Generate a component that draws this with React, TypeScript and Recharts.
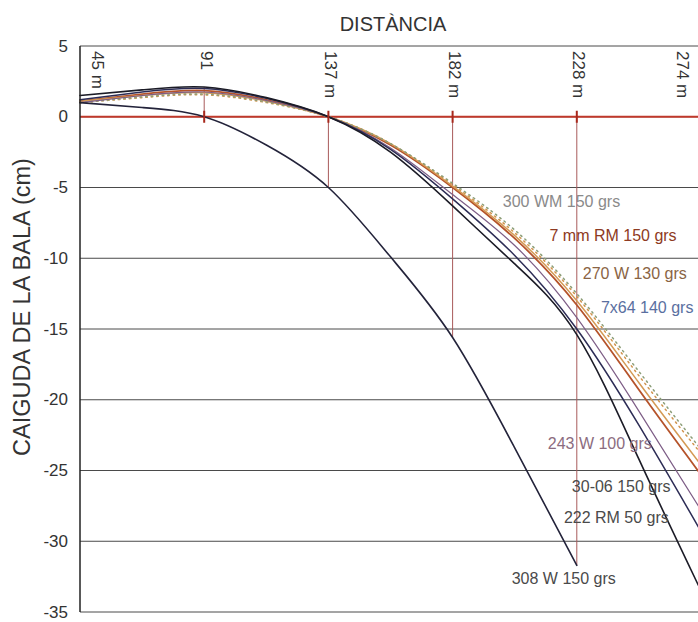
import React from 'react';
import { ComposedChart, Line, XAxis, YAxis, CartesianGrid, ReferenceLine, ReferenceDot } from 'recharts';

// Distance in yards (ticks are shown in metres)
const DIST = [50, 75, 100, 125, 150, 175, 200, 225, 250, 275, 300];
const TICK_DIST = [50, 100, 150, 200, 250, 300];
const TICK_LABELS = ['45 m', '91', '137 m', '182 m', '228 m', '274 m'];
const Y_TICKS = [5, 0, -5, -10, -15, -20, -25, -30, -35];

// Bullet drop (cm)
const S300WM = [1.0, 1.35, 1.55, 1.0, 0, -1.9, -4.8, -8.2, -12.7, -18.3, -23.8];
const S7MM = [1.1, 1.6, 1.85, 1.2, 0, -2.0, -5.0, -8.6, -13.3, -19.3, -25.3];
const S270 = [1.1, 1.5, 1.7, 1.1, 0, -1.9, -4.9, -8.4, -13.0, -18.8, -24.6];
const S7X64 = [1.0, 1.4, 1.6, 1.05, 0, -1.9, -4.7, -8.0, -12.5, -18.0, -23.5];
const S243 = [1.0, 1.5, 1.75, 1.15, 0, -2.2, -5.5, -9.1, -14.2, -20.8, -27.8];
const S3006 = [1.2, 1.75, 2.0, 1.3, 0, -2.3, -5.8, -9.8, -15.0, -21.8, -29.3];
const S222 = [1.5, 1.9, 2.1, 1.35, 0, -2.5, -6.3, -10.4, -15.4, -24.2, -33.5];
const S308 = [1.0, 0.65, 0, -2.0, -5.0, -9.9, -15.6, -23.4, -31.7, null, null];

// Series annotations (text, anchor distance in yards, anchor drop in cm)
const LABEL_TEXT = ['300 WM 150 grs', '7 mm RM 150 grs', '270 W 130 grs', '7x64 140 grs', '243 W 100 grs', '30-06 150 grs', '222 RM 50 grs', '308 W 150 grs'];
const LABEL_DIST = [220.2, 239, 252.4, 259.7, 238.3, 248, 244.8, 223.8];
const LABEL_DROP = [-6.0, -8.4, -11.1, -13.5, -23.1, -26.1, -28.3, -32.6];

const SERIES_ARRAYS = [S300WM, S7MM, S270, S7X64, S243, S3006, S222, S308];
const SERIES_KEYS = ['wm300', 'mm7', 'w270', 'x64', 'w243', 's3006', 'rm222', 'w308'];
const SERIES_STYLE = [
  { stroke: '#d0944e', width: 1.5, dash: '1.5 4' },
  { stroke: '#b5532a', width: 1.8, dash: undefined },
  { stroke: '#d49a55', width: 1.5, dash: undefined },
  { stroke: '#8c9e78', width: 1.5, dash: '1.5 4' },
  { stroke: '#7d5d86', width: 1.2, dash: undefined },
  { stroke: '#2c2c55', width: 1.5, dash: undefined },
  { stroke: '#1b1b26', width: 1.6, dash: undefined },
  { stroke: '#23233a', width: 1.6, dash: undefined },
];
const LABEL_COLORS = ['#8a8a8a', '#8e3a22', '#8a6444', '#5a6fa0', '#8c6c80', '#4a4a4a', '#4a4a4a', '#4a4a4a'];

const FONT = '"Liberation Sans", Arial, sans-serif';

const data = DIST.map((x, i) => {
  const row: Record<string, number | null> = { x };
  SERIES_KEYS.forEach((k, j) => {
    row[k] = SERIES_ARRAYS[j][i];
  });
  return row;
});

const DROP_DIST = TICK_DIST.filter((d) => d > DIST[0] && d < DIST[DIST.length - 1]);
const dropLines = DROP_DIST.map((d) => {
  const i = DIST.indexOf(d);
  const vals = SERIES_ARRAYS.map((s) => s[i]).filter((v): v is number => v !== null && v !== undefined);
  return { x: d, top: Math.max(0, ...vals), bottom: Math.min(0, ...vals) };
});

const YTick = (props: any) => {
  const { y, payload } = props;
  return (
    <text x={68} y={y} textAnchor="end" dominantBaseline="central" fontSize={17} fill="#333" fontFamily={FONT}>
      {payload.value}
    </text>
  );
};

export default function App() {
  return (
    <div style={{ position: 'absolute', left: 0, top: 0, width: 698, height: 622, overflow: 'hidden', background: '#fff' }}>
      <div
        style={{
          position: 'absolute',
          left: 293,
          top: 12,
          width: 200,
          textAlign: 'center',
          fontSize: 20,
          fontFamily: FONT,
          color: '#333',
          lineHeight: '24px',
        }}
      >
        DISTÀNCIA
      </div>
      <div
        style={{
          position: 'absolute',
          left: 22 - 200,
          top: 307 - 13,
          width: 400,
          height: 26,
          lineHeight: '26px',
          textAlign: 'center',
          transform: 'rotate(-90deg)',
          fontSize: 23.5,
          fontFamily: FONT,
          color: '#333',
        }}
      >
        CAIGUDA DE LA BALA (cm)
      </div>
      <div style={{ position: 'absolute', left: 0, top: 0 }}>
        <ComposedChart width={702} height={622} data={data} margin={{ top: 46, right: 1, bottom: 10, left: 0 }}>
          <CartesianGrid vertical={false} stroke="#4a4a4a" strokeWidth={1} />
          <XAxis
            dataKey="x"
            type="number"
            orientation="top"
            domain={[50, 300]}
            ticks={TICK_DIST}
            height={0}
            axisLine={{ stroke: '#222', strokeWidth: 1.5 }}
            tickLine={false}
            tick={false}
          />
          <YAxis
            type="number"
            domain={[-35, 5]}
            ticks={Y_TICKS}
            width={80}
            axisLine={{ stroke: '#222', strokeWidth: 1.5 }}
            tickLine={false}
            tick={<YTick />}
            interval={0}
          />
          {dropLines.map((d) => (
            <ReferenceLine
              key={`drop-${d.x}`}
              segment={[
                { x: d.x, y: d.top },
                { x: d.x, y: d.bottom },
              ]}
              stroke="#a85a5a"
              strokeWidth={1}
              ifOverflow="visible"
            />
          ))}
          <ReferenceLine y={0} stroke="#c0392b" strokeWidth={2} />
          {dropLines.map((d) => (
            <ReferenceDot
              key={`tick-${d.x}`}
              x={d.x}
              y={0}
              r={0}
              ifOverflow="visible"
              shape={(p: any) => (
                <line x1={p.cx} x2={p.cx} y1={p.cy - 6} y2={p.cy + 6} stroke="#a8281c" strokeWidth={2} />
              )}
            />
          ))}
          {TICK_DIST.map((d, j) => (
            <ReferenceDot
              key={`xt-${d}`}
              x={d}
              y={5}
              r={0}
              ifOverflow="visible"
              shape={(p: any) => {
                const cx = Math.min(Math.max(p.cx + 2, 97), 682);
                return (
                  <text
                    x={0}
                    y={0}
                    transform={`translate(${cx},${p.cy + 5}) rotate(90)`}
                    textAnchor="start"
                    dominantBaseline="central"
                    fontSize={17}
                    fill="#333"
                    fontFamily={FONT}
                  >
                    {TICK_LABELS[j]}
                  </text>
                );
              }}
            />
          ))}
          {SERIES_KEYS.map((k, j) => (
            <Line
              key={k}
              dataKey={k}
              type="natural"
              stroke={SERIES_STYLE[j].stroke}
              strokeWidth={SERIES_STYLE[j].width}
              strokeDasharray={SERIES_STYLE[j].dash}
              strokeLinecap="round"
              dot={false}
              activeDot={false}
              connectNulls={false}
              isAnimationActive={false}
            />
          ))}
          {LABEL_TEXT.map((t, j) => (
            <ReferenceDot
              key={`lbl-${j}`}
              x={LABEL_DIST[j]}
              y={LABEL_DROP[j]}
              r={0}
              ifOverflow="visible"
              shape={(p: any) => (
                <text
                  x={p.cx}
                  y={p.cy}
                  dominantBaseline="central"
                  fontSize={16}
                  fill={LABEL_COLORS[j]}
                  fontFamily={FONT}
                >
                  {t}
                </text>
              )}
            />
          ))}
        </ComposedChart>
      </div>
    </div>
  );
}
